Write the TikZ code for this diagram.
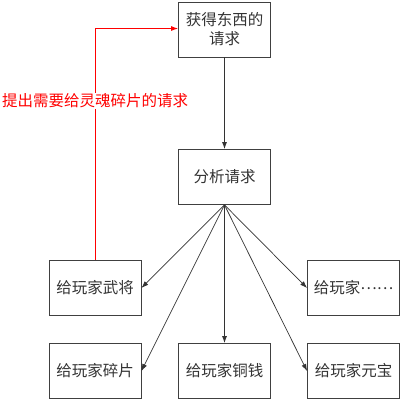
\documentclass[tikz,border=0pt]{standalone}
\usepackage{fontspec}
\newfontfamily\cjk{Noto Sans CJK SC}
\usetikzlibrary{arrows.meta}
\begin{document}
\begin{tikzpicture}[x=1pt,y=-1pt,
  box/.style={draw=black!75,line width=0.9pt,minimum width=92pt,minimum height=55pt,inner sep=0pt,font=\cjk\fontsize{15.5}{19}\selectfont,align=center,text=black!80},
  arr/.style={draw=black!80,line width=0.7pt,-{Latex[length=7pt,width=5pt]}},
  rarr/.style={draw=red,line width=0.8pt,-{Latex[length=7pt,width=5pt]}}]
\useasboundingbox (0,0) rectangle (401,400);
\node[box] (req) at (224.5,29.5) {获得东西的\\请求};
\node[box] (ana) at (224.5,177) {分析请求};
\node[box] (wj) at (95,288) {给玩家武将};
\node[box] (sp) at (95,371) {给玩家碎片};
\node[box] (tq) at (224.5,371) {给玩家铜钱};
\node[box] (yb) at (353.5,371) {给玩家元宝};
\node[box] (dd) at (353.5,288) {给玩家\raisebox{0.3em}{……}};
\draw[arr] (req.south) -- (ana.north);
\draw[arr] (ana.south) -- (wj.east);
\draw[arr] (ana.south) -- (sp.east);
\draw[arr] (ana.south) -- (tq.north);
\draw[arr] (ana.south) -- (yb.west);
\draw[arr] (ana.south) -- (dd.west);
\coordinate (c) at (95,28.5);
\draw[rarr] (wj.north) -- (c) -- (req.west |- c);
\node[fill=white,inner sep=1pt,text=red,font=\cjk\fontsize{15.5}{18}\selectfont] (lbl) at (95,101) {提出需要给灵魂碎片的请求};
\end{tikzpicture}
\end{document}
